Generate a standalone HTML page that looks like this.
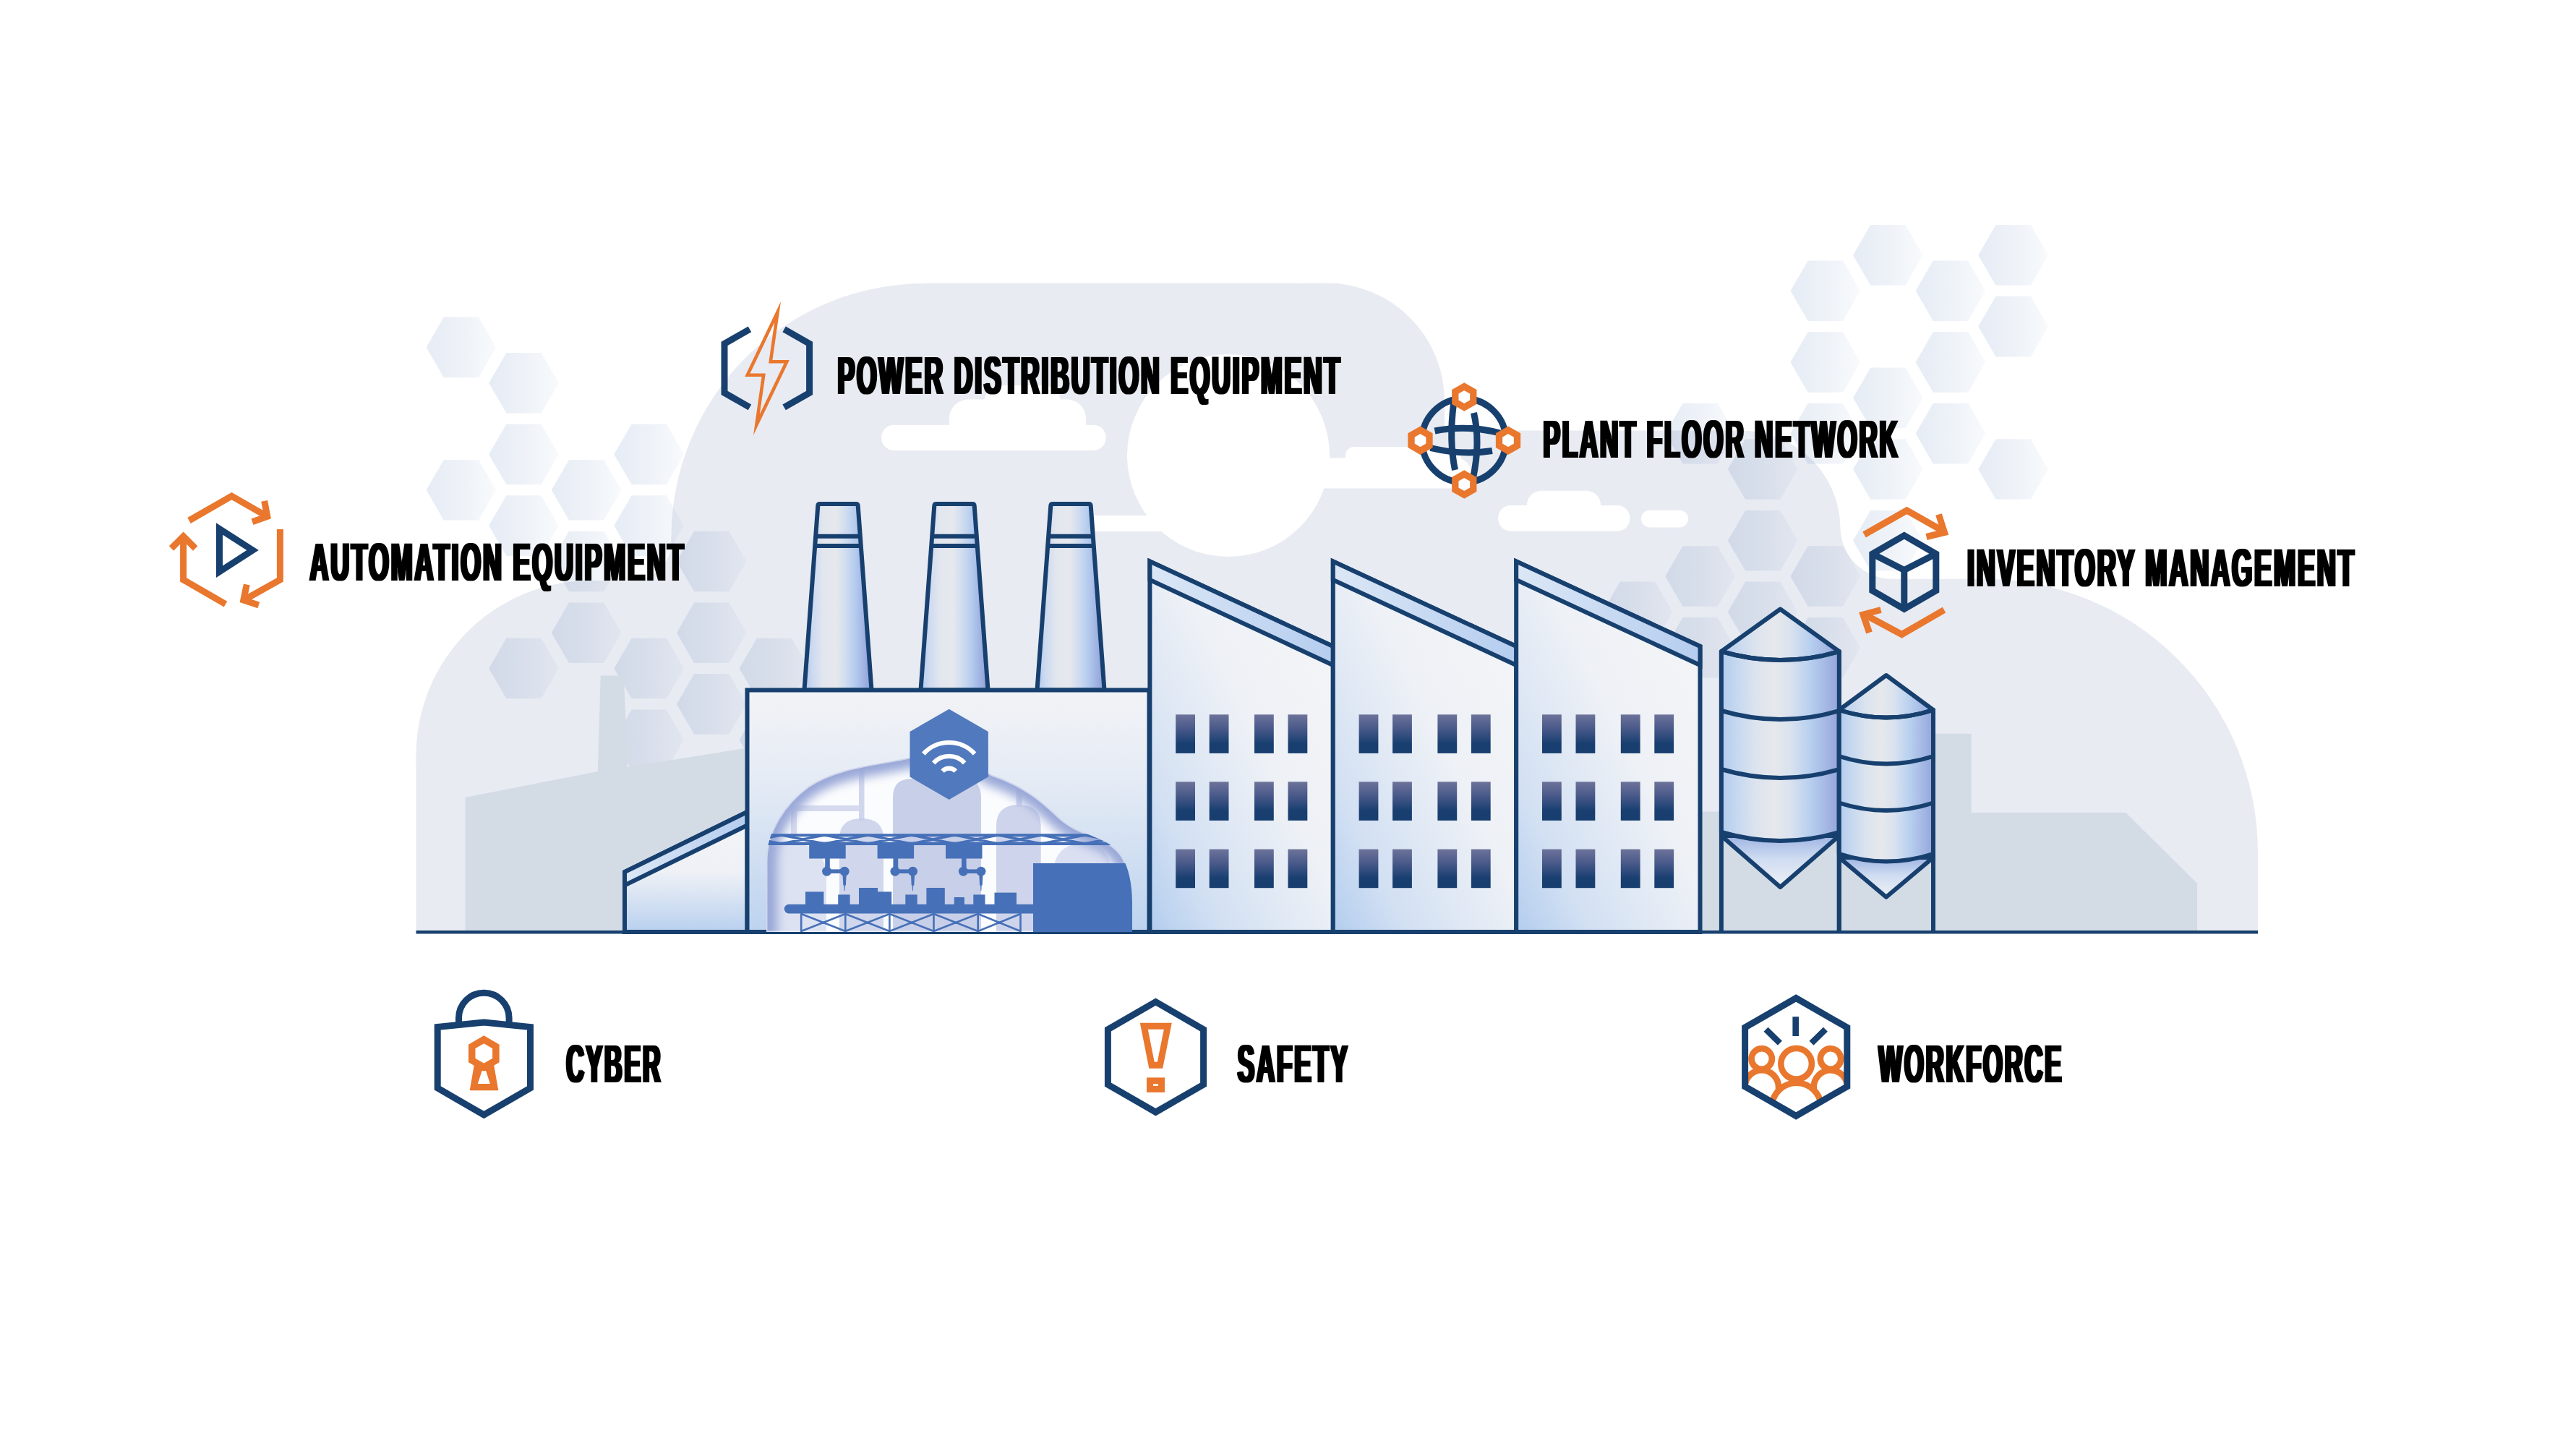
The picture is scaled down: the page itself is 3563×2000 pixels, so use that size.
<!DOCTYPE html>
<html lang="en"><head><meta charset="utf-8"><title>Factory</title>
<style>html,body{margin:0;padding:0;background:#fff;overflow:hidden}svg{display:block}</style></head>
<body>
<svg width="3563" height="2000" viewBox="0 0 3563 2000">
<rect width="3563" height="2000" fill="#fff"/>

<defs>
<linearGradient id="gHex" x1="0" y1="0" x2="1" y2="0">
 <stop offset="0" stop-color="#e6ecf5"/><stop offset="0.5" stop-color="#eef2f8"/><stop offset="1" stop-color="#f8fafc"/>
</linearGradient>
<linearGradient id="gHexC" x1="0" y1="0" x2="1" y2="0">
 <stop offset="0" stop-color="#d6dae6"/><stop offset="0.5" stop-color="#dadee9"/><stop offset="1" stop-color="#e4e7ef"/>
</linearGradient>
<linearGradient id="gChim" x1="0" y1="0" x2="1" y2="0">
 <stop offset="0" stop-color="#b1c9ee"/><stop offset="0.12" stop-color="#ccdaf0"/><stop offset="0.28" stop-color="#e2e6ee"/><stop offset="0.48" stop-color="#e6e8ed"/><stop offset="0.62" stop-color="#cfdcf0"/><stop offset="0.76" stop-color="#b4cbee"/><stop offset="0.9" stop-color="#9db0e1"/><stop offset="1" stop-color="#8b9fd8"/>
</linearGradient>
<linearGradient id="gSilo" x1="0" y1="0" x2="1" y2="0">
 <stop offset="0" stop-color="#b3ccee"/><stop offset="0.12" stop-color="#c4d7f0"/><stop offset="0.3" stop-color="#dde4ee"/><stop offset="0.45" stop-color="#e6e8ec"/><stop offset="0.58" stop-color="#dbe3ef"/><stop offset="0.75" stop-color="#b8d0ef"/><stop offset="0.9" stop-color="#a3b6e3"/><stop offset="1" stop-color="#94a5db"/>
</linearGradient>
<linearGradient id="gCone" x1="0" y1="0" x2="0" y2="1">
 <stop offset="0" stop-color="#9eb4e3"/><stop offset="0.45" stop-color="#cfdcf1"/><stop offset="1" stop-color="#eef1f6"/>
</linearGradient>
<linearGradient id="gSaw" x1="1" y1="0" x2="0" y2="1">
 <stop offset="0" stop-color="#f4f5f7"/><stop offset="0.45" stop-color="#eef1f6"/><stop offset="0.8" stop-color="#d2e0f3"/><stop offset="1" stop-color="#b3cdee"/>
</linearGradient>
<linearGradient id="gMain" x1="0" y1="0" x2="0" y2="1">
 <stop offset="0" stop-color="#f2f3f6"/><stop offset="0.35" stop-color="#e6ecf5"/><stop offset="1" stop-color="#bdd3ef"/>
</linearGradient>
<linearGradient id="gAnnex" x1="0" y1="0" x2="0" y2="1">
 <stop offset="0" stop-color="#f3f4f7"/><stop offset="0.5" stop-color="#eef1f6"/><stop offset="1" stop-color="#b9d0ef"/>
</linearGradient>
<linearGradient id="gBand" x1="0" y1="0" x2="1" y2="0">
 <stop offset="0" stop-color="#dbe7f6"/><stop offset="1" stop-color="#b5cdef"/>
</linearGradient>
<linearGradient id="gWin" x1="0" y1="0" x2="0" y2="1">
 <stop offset="0" stop-color="#6d739a"/><stop offset="0.35" stop-color="#4a5a8a"/><stop offset="0.75" stop-color="#183f70"/><stop offset="1" stop-color="#173e6e"/>
</linearGradient>
<radialGradient id="gBlob" cx="0.5" cy="0.62" r="0.62" fx="0.5" fy="0.7">
 <stop offset="0" stop-color="#ffffff"/><stop offset="0.7" stop-color="#f3f5fb"/><stop offset="0.9" stop-color="#d6dcf0"/><stop offset="1" stop-color="#b9c3e4"/>
</radialGradient>
<filter id="fx" x="-3%" y="-10%" width="106%" height="120%"><feMorphology operator="dilate" radius="1.5 0"/></filter>
<filter id="blur6" x="-20%" y="-20%" width="140%" height="140%"><feGaussianBlur stdDeviation="7"/></filter>
<clipPath id="cpTop"><rect x="0" y="391.5" width="3563" height="897.5"/></clipPath>
<clipPath id="cpBlob"><path id="blobP" d="M1060,1289 V1192 C1060,1150 1085,1112 1118,1088 C1160,1060 1215,1058 1262,1047 C1300,1038 1340,1050 1372,1072 C1420,1088 1445,1112 1466,1132 C1495,1158 1530,1155 1550,1182 C1562,1200 1566,1225 1566,1250 V1289 Z"/></clipPath>
</defs>

<g id="cloud" fill="#e8ebf2" clip-path="url(#cpTop)">
<circle cx="817.5" cy="1045" r="242"/><rect x="575.5" y="1045" width="440" height="250"/><rect x="817.5" y="803" width="200" height="300"/>
<path d="M871.5,803.5 H930 V744.8 A58,58 0 0 1 871.5,803 Z"/>
<circle cx="1279.5" cy="743" r="351"/><rect x="928.5" y="743" width="360" height="548"/>
<rect x="1279" y="391.5" width="556" height="900"/>
<circle cx="1834.5" cy="554.8" r="163.5"/><rect x="1834" y="554.8" width="164" height="700"/>
<path d="M1990,595.5 H2409.5 A136,136 0 0 1 2545.5,731.5 A72,72 0 0 0 2617.5,800.8 H2745 A378.2,378.2 0 0 1 3123,1179 V1290 H1990 Z"/>
</g>
<g fill="#fff">
<circle cx="1699" cy="630" r="140"/>
<rect x="1500" y="713" width="120" height="22"/>
<rect x="1800" y="633.5" width="235" height="42" rx="21"/>
<rect x="1861" y="618" width="160" height="40" rx="12"/>
<rect x="1219" y="587.7" width="310.7" height="35.3" rx="17.6"/>
<rect x="1313" y="552.6" width="189" height="60" rx="26"/>
<rect x="1361" y="533" width="106" height="60" rx="24"/>
<rect x="2072" y="699" width="182.5" height="35.7" rx="17.8"/>
<rect x="2112" y="678.7" width="102" height="50" rx="20"/>
<rect x="2270" y="705.8" width="65" height="23.7" rx="11.8"/>
</g>
<g fill="url(#gHex)" style="mix-blend-mode:multiply">
<polygon points="686.2,480.4 662.0,522.2 613.8,522.2 589.6,480.4 613.8,438.6 662.0,438.6"/>
<polygon points="686.2,677.8 662.0,719.6 613.8,719.6 589.6,677.8 613.8,636.0 662.0,636.0"/>
<polygon points="772.8,529.7 748.6,571.5 700.4,571.5 676.2,529.7 700.4,487.9 748.6,487.9"/>
<polygon points="772.8,628.4 748.6,670.2 700.4,670.2 676.2,628.4 700.4,586.6 748.6,586.6"/>
<polygon points="772.8,727.1 748.6,768.9 700.4,768.9 676.2,727.1 700.4,685.3 748.6,685.3"/>
<polygon points="772.8,924.5 748.6,966.3 700.4,966.3 676.2,924.5 700.4,882.7 748.6,882.7"/>
<polygon points="859.4,677.8 835.2,719.6 787.0,719.6 762.8,677.8 787.0,636.0 835.2,636.0"/>
<polygon points="859.4,776.5 835.2,818.3 787.0,818.3 762.8,776.5 787.0,734.7 835.2,734.7"/>
<polygon points="859.4,875.2 835.2,917.0 787.0,917.0 762.8,875.2 787.0,833.4 835.2,833.4"/>
<polygon points="946.0,628.4 921.9,670.2 873.6,670.2 849.4,628.4 873.6,586.6 921.9,586.6"/>
<polygon points="946.0,727.1 921.9,768.9 873.6,768.9 849.4,727.1 873.6,685.3 921.9,685.3"/>
<polygon points="946.0,924.5 921.9,966.3 873.6,966.3 849.4,924.5 873.6,882.7 921.9,882.7"/>
<polygon points="946.0,1023.2 921.9,1065.0 873.6,1065.0 849.4,1023.2 873.6,981.4 921.9,981.4"/>
<polygon points="1032.6,776.5 1008.4,818.3 960.1,818.3 936.0,776.5 960.1,734.7 1008.4,734.7"/>
<polygon points="1032.6,875.2 1008.4,917.0 960.1,917.0 936.0,875.2 960.1,833.4 1008.4,833.4"/>
<polygon points="1032.6,973.9 1008.4,1015.7 960.1,1015.7 936.0,973.9 960.1,932.1 1008.4,932.1"/>
<polygon points="1119.2,924.5 1095.1,966.3 1046.8,966.3 1022.6,924.5 1046.8,882.7 1095.1,882.7"/>
<polygon points="1119.2,1023.2 1095.1,1065.0 1046.8,1065.0 1022.6,1023.2 1046.8,981.4 1095.1,981.4"/>
<polygon points="2313.3,846.4 2289.2,888.2 2240.8,888.2 2216.7,846.4 2240.8,804.6 2289.2,804.6"/>
<polygon points="2399.9,599.6 2375.8,641.4 2327.5,641.4 2303.3,599.6 2327.5,557.8 2375.8,557.8"/>
<polygon points="2399.9,797.0 2375.8,838.8 2327.5,838.8 2303.3,797.0 2327.5,755.2 2375.8,755.2"/>
<polygon points="2399.9,895.7 2375.8,937.5 2327.5,937.5 2303.3,895.7 2327.5,853.9 2375.8,853.9"/>
<polygon points="2486.5,649.0 2462.4,690.8 2414.1,690.8 2389.9,649.0 2414.1,607.2 2462.4,607.2"/>
<polygon points="2486.5,747.7 2462.4,789.5 2414.1,789.5 2389.9,747.7 2414.1,705.9 2462.4,705.9"/>
<polygon points="2486.5,846.4 2462.4,888.2 2414.1,888.2 2389.9,846.4 2414.1,804.6 2462.4,804.6"/>
<polygon points="2573.1,402.2 2549.0,444.0 2500.7,444.0 2476.5,402.2 2500.7,360.4 2549.0,360.4"/>
<polygon points="2573.1,500.9 2549.0,542.7 2500.7,542.7 2476.5,500.9 2500.7,459.1 2549.0,459.1"/>
<polygon points="2573.1,599.6 2549.0,641.4 2500.7,641.4 2476.5,599.6 2500.7,557.8 2549.0,557.8"/>
<polygon points="2573.1,797.0 2549.0,838.8 2500.7,838.8 2476.5,797.0 2500.7,755.2 2549.0,755.2"/>
<polygon points="2573.1,895.7 2549.0,937.5 2500.7,937.5 2476.5,895.7 2500.7,853.9 2549.0,853.9"/>
<polygon points="2659.7,352.9 2635.6,394.7 2587.2,394.7 2563.1,352.9 2587.2,311.1 2635.6,311.1"/>
<polygon points="2659.7,550.3 2635.6,592.1 2587.2,592.1 2563.1,550.3 2587.2,508.5 2635.6,508.5"/>
<polygon points="2659.7,649.0 2635.6,690.8 2587.2,690.8 2563.1,649.0 2587.2,607.2 2635.6,607.2"/>
<polygon points="2659.7,747.7 2635.6,789.5 2587.2,789.5 2563.1,747.7 2587.2,705.9 2635.6,705.9"/>
<polygon points="2746.3,402.2 2722.2,444.0 2673.8,444.0 2649.7,402.2 2673.8,360.4 2722.2,360.4"/>
<polygon points="2746.3,500.9 2722.2,542.7 2673.8,542.7 2649.7,500.9 2673.8,459.1 2722.2,459.1"/>
<polygon points="2746.3,599.6 2722.2,641.4 2673.8,641.4 2649.7,599.6 2673.8,557.8 2722.2,557.8"/>
<polygon points="2832.9,352.9 2808.8,394.7 2760.5,394.7 2736.3,352.9 2760.5,311.1 2808.8,311.1"/>
<polygon points="2832.9,451.6 2808.8,493.4 2760.5,493.4 2736.3,451.6 2760.5,409.8 2808.8,409.8"/>
<polygon points="2832.9,649.0 2808.8,690.8 2760.5,690.8 2736.3,649.0 2760.5,607.2 2808.8,607.2"/>
</g>
<g fill="#d3dce5">
<path d="M643.5,1290 V1103 L826.8,1066.9 L830.8,934.5 H862.9 L868,1060.9 L1040,1033.5 V1290 Z"/>
<path d="M2354,1290 V1122.5 H2676 V1014.8 H2726.6 V1123.9 H2940.3 L3039.1,1222 V1290 Z"/>
</g>
<rect x="575.5" y="1287" width="2547.5" height="4.5" fill="#17406f"/>
<g id="factory" stroke="#17406f" stroke-width="6" stroke-linejoin="miter">
<path d="M1112.5,954.5 L1131.3,699.5 Q1131.5,697 1134.0,697 H1184.0 Q1186.5,697 1186.7,699.5 L1205.5,954.5 Z" fill="url(#gChim)"/>
<path d="M1128.2,741.8 H1189.8 M1127.2,755 H1190.8" fill="none" stroke-width="6"/>
<path d="M1273.5,954.5 L1292.3,699.5 Q1292.5,697 1295.0,697 H1345.0 Q1347.5,697 1347.7,699.5 L1366.5,954.5 Z" fill="url(#gChim)"/>
<path d="M1289.2,741.8 H1350.8 M1288.2,755 H1351.8" fill="none" stroke-width="6"/>
<path d="M1434.5,954.5 L1453.3,699.5 Q1453.5,697 1456.0,697 H1506.0 Q1508.5,697 1508.7,699.5 L1527.5,954.5 Z" fill="url(#gChim)"/>
<path d="M1450.2,741.8 H1511.8 M1449.2,755 H1512.8" fill="none" stroke-width="6"/>
<path d="M864,1289 V1206 L1033.5,1123 V1289 Z" fill="url(#gAnnex)"/>
<path d="M864,1206 L1033.5,1123 V1141.5 L864,1224.5 Z" fill="url(#gBand)"/>
<rect x="1033.5" y="954.5" width="556" height="334.5" fill="url(#gMain)"/>
</g>
<g clip-path="url(#cpBlob)">
<use href="#blobP" fill="#fbfcfe"/>
<g fill="#c5cce7">
<path d="M1235,1289 V1103 Q1235,1077 1261,1077 H1331 Q1357,1077 1357,1103 V1289 Z" opacity="0.95"/>
<path d="M1161,1289 V1160 Q1161,1132 1191.5,1132 Q1222,1132 1222,1160 V1289 Z" opacity="0.8"/>
<rect x="1188" y="1060" width="7.5" height="75" opacity="0.8"/>
<path d="M1378,1289 V1143 Q1378,1113 1408.8,1113 Q1439.7,1113 1439.7,1143 V1289 Z" opacity="0.85"/>
<rect x="1405.6" y="1080" width="8" height="36" opacity="0.85"/>
<path d="M1050,1289 V1215 Q1050,1167 1097,1167 Q1143,1167 1143,1215 V1289 Z" opacity="0.55"/>
<path d="M1456,1289 V1215 Q1456,1167 1497,1167 Q1538,1167 1538,1215 V1289 Z" opacity="0.6"/>
<path d="M1094,1153 V1114 H1188 V1122 H1102.3 V1153 Z" opacity="0.7"/>
</g>
<path d="M1060,1340 V1192 C1060,1150 1085,1112 1118,1088 C1160,1060 1215,1058 1262,1047 C1300,1038 1340,1050 1372,1072 C1420,1088 1445,1112 1466,1132 C1495,1158 1530,1155 1550,1182 C1562,1200 1566,1225 1566,1250 V1340" fill="none" stroke="#9aa8d8" stroke-width="30" filter="url(#blur6)"/>
<use href="#blobP" fill="none" stroke="#ffffff" stroke-width="3" opacity="0.55"/>
<g fill="#4670b8" stroke="none">
<rect x="1064" y="1153.2" width="480" height="4"/><rect x="1062" y="1164.6" width="490" height="4.4"/>
</g>
<g stroke="#4670b8" stroke-width="2.2" fill="none">
<path d="M1017.0,1155 L1077.0,1167 M1017.0,1167 L1077.0,1155 M1024.0,1155 L1084.0,1167 M1024.0,1167 L1084.0,1155 M1077.0,1155 L1137.0,1167 M1077.0,1167 L1137.0,1155 M1084.0,1155 L1144.0,1167 M1084.0,1167 L1144.0,1155 M1137.0,1155 L1197.0,1167 M1137.0,1167 L1197.0,1155 M1144.0,1155 L1204.0,1167 M1144.0,1167 L1204.0,1155 M1197.0,1155 L1257.0,1167 M1197.0,1167 L1257.0,1155 M1204.0,1155 L1264.0,1167 M1204.0,1167 L1264.0,1155 M1257.0,1155 L1317.0,1167 M1257.0,1167 L1317.0,1155 M1264.0,1155 L1324.0,1167 M1264.0,1167 L1324.0,1155 M1317.0,1155 L1377.0,1167 M1317.0,1167 L1377.0,1155 M1324.0,1155 L1384.0,1167 M1324.0,1167 L1384.0,1155 M1377.0,1155 L1437.0,1167 M1377.0,1167 L1437.0,1155 M1384.0,1155 L1444.0,1167 M1384.0,1167 L1444.0,1155 M1437.0,1155 L1497.0,1167 M1437.0,1167 L1497.0,1155 M1444.0,1155 L1504.0,1167 M1444.0,1167 L1504.0,1155 M1497.0,1155 L1557.0,1167 M1497.0,1167 L1557.0,1155 M1504.0,1155 L1564.0,1167 M1504.0,1167 L1564.0,1155 M1557.0,1155 L1617.0,1167 M1557.0,1167 L1617.0,1155 M1564.0,1155 L1624.0,1167 M1564.0,1167 L1624.0,1155"/>
</g>
<g fill="#4670b8" stroke="none">
<rect x="1119.2" y="1168.5" width="50.5" height="19"/>
<rect x="1141.2" y="1186" width="6.6" height="19"/>
<circle cx="1143.6" cy="1205.2" r="6.5"/><circle cx="1168.1" cy="1205.2" r="6.5"/>
<rect x="1143.6" y="1202.4" width="25" height="5.6"/>
<path d="M1165.3,1205 h5.6 l-1,19.5 h-1 l-0.4,7.5 h-0.8 l-0.4,-7.5 h-1 Z"/>
<rect x="1213.6" y="1168.5" width="50.5" height="19"/>
<rect x="1235.6" y="1186" width="6.6" height="19"/>
<circle cx="1238.0" cy="1205.2" r="6.5"/><circle cx="1262.5" cy="1205.2" r="6.5"/>
<rect x="1238.0" y="1202.4" width="25" height="5.6"/>
<path d="M1259.7,1205 h5.6 l-1,19.5 h-1 l-0.4,7.5 h-0.8 l-0.4,-7.5 h-1 Z"/>
<rect x="1308.0" y="1168.5" width="50.5" height="19"/>
<rect x="1330.0" y="1186" width="6.6" height="19"/>
<circle cx="1332.4" cy="1205.2" r="6.5"/><circle cx="1356.9" cy="1205.2" r="6.5"/>
<rect x="1332.4" y="1202.4" width="25" height="5.6"/>
<path d="M1354.1,1205 h5.6 l-1,19.5 h-1 l-0.4,7.5 h-0.8 l-0.4,-7.5 h-1 Z"/>
<rect x="1084.7" y="1250.8" width="360" height="12.6" rx="6.3"/>
<rect x="1114.0" y="1233.4" width="25.4" height="18.6"/>
<rect x="1159.2" y="1237.4" width="16.4" height="14.6"/>
<rect x="1188.0" y="1228.0" width="26.0" height="24.0"/>
<rect x="1214.0" y="1233.4" width="19.2" height="18.6"/>
<rect x="1252.3" y="1237.4" width="16.4" height="14.6"/>
<rect x="1281.4" y="1228.0" width="25.4" height="24.0"/>
<rect x="1319.8" y="1241.0" width="14.1" height="11.0"/>
<rect x="1346.3" y="1237.4" width="16.2" height="14.6"/>
<rect x="1375.5" y="1234.6" width="30.5" height="17.4"/>
<rect x="1429" y="1194" width="140" height="96"/>
</g>
<g stroke="#4670b8" stroke-width="2.6" fill="none">
<path d="M1108.2,1263 V1289 M1108.2,1264 L1169.3,1288 M1108.2,1288 L1169.3,1264 M1169.3,1263 V1289 M1169.3,1264 L1230.4,1288 M1169.3,1288 L1230.4,1264 M1230.4,1263 V1289 M1230.4,1264 L1291.5,1288 M1230.4,1288 L1291.5,1264 M1291.5,1263 V1289 M1291.5,1264 L1352.7,1288 M1291.5,1288 L1352.7,1264 M1352.7,1263 V1289 M1352.7,1264 L1411.5,1288 M1352.7,1288 L1411.5,1264 M1411.5,1263 V1289"/>
</g>
</g>
<polygon points="1366.9,1074.6 1312.7,1105.9 1258.5,1074.6 1258.5,1012.0 1312.7,980.7 1366.9,1012.0" fill="#5179be"/>
<g fill="none" stroke="#fff" stroke-width="6.2">
<path d="M1277.3,1042.6 A48.0,48.0 0 0 1 1348.1,1042.6"/>
<path d="M1291.2,1055.3 A29.2,29.2 0 0 1 1334.2,1055.3"/>
<path d="M1303.6,1066.7 A12.3,12.3 0 0 1 1321.8,1066.7"/>
</g>
<g stroke="#17406f" stroke-width="6" stroke-linejoin="miter">
<path d="M1590.4,1289 V776.5 L1843.8,894 V1289 Z" fill="url(#gSaw)"/>
<path d="M1590.4,776.5 L1843.8,894 V920 L1590.4,802 Z" fill="url(#gBand)"/>
<path d="M1843.8,1289 V776.5 L2097.2,894 V1289 Z" fill="url(#gSaw)"/>
<path d="M1843.8,776.5 L2097.2,894 V920 L1843.8,802 Z" fill="url(#gBand)"/>
<path d="M2097.2,1289 V776.5 L2351.5,894 V1289 Z" fill="url(#gSaw)"/>
<path d="M2097.2,776.5 L2351.5,894 V920 L2097.2,802 Z" fill="url(#gBand)"/>
</g>
<g fill="url(#gWin)">
<rect x="1626.2" y="988.3" width="26.8" height="53.6"/>
<rect x="1626.2" y="1081.3" width="26.8" height="53.6"/>
<rect x="1626.2" y="1174.6" width="26.8" height="53.6"/>
<rect x="1672.7" y="988.3" width="26.8" height="53.6"/>
<rect x="1672.7" y="1081.3" width="26.8" height="53.6"/>
<rect x="1672.7" y="1174.6" width="26.8" height="53.6"/>
<rect x="1735.0" y="988.3" width="26.8" height="53.6"/>
<rect x="1735.0" y="1081.3" width="26.8" height="53.6"/>
<rect x="1735.0" y="1174.6" width="26.8" height="53.6"/>
<rect x="1781.5" y="988.3" width="26.8" height="53.6"/>
<rect x="1781.5" y="1081.3" width="26.8" height="53.6"/>
<rect x="1781.5" y="1174.6" width="26.8" height="53.6"/>
<rect x="1879.6" y="988.3" width="26.8" height="53.6"/>
<rect x="1879.6" y="1081.3" width="26.8" height="53.6"/>
<rect x="1879.6" y="1174.6" width="26.8" height="53.6"/>
<rect x="1926.1" y="988.3" width="26.8" height="53.6"/>
<rect x="1926.1" y="1081.3" width="26.8" height="53.6"/>
<rect x="1926.1" y="1174.6" width="26.8" height="53.6"/>
<rect x="1988.4" y="988.3" width="26.8" height="53.6"/>
<rect x="1988.4" y="1081.3" width="26.8" height="53.6"/>
<rect x="1988.4" y="1174.6" width="26.8" height="53.6"/>
<rect x="2034.9" y="988.3" width="26.8" height="53.6"/>
<rect x="2034.9" y="1081.3" width="26.8" height="53.6"/>
<rect x="2034.9" y="1174.6" width="26.8" height="53.6"/>
<rect x="2133.0" y="988.3" width="26.8" height="53.6"/>
<rect x="2133.0" y="1081.3" width="26.8" height="53.6"/>
<rect x="2133.0" y="1174.6" width="26.8" height="53.6"/>
<rect x="2179.5" y="988.3" width="26.8" height="53.6"/>
<rect x="2179.5" y="1081.3" width="26.8" height="53.6"/>
<rect x="2179.5" y="1174.6" width="26.8" height="53.6"/>
<rect x="2241.8" y="988.3" width="26.8" height="53.6"/>
<rect x="2241.8" y="1081.3" width="26.8" height="53.6"/>
<rect x="2241.8" y="1174.6" width="26.8" height="53.6"/>
<rect x="2288.3" y="988.3" width="26.8" height="53.6"/>
<rect x="2288.3" y="1081.3" width="26.8" height="53.6"/>
<rect x="2288.3" y="1174.6" width="26.8" height="53.6"/>
</g>
<g stroke="#17406f" stroke-width="6" stroke-linejoin="round">
<path d="M2380.9,1289 V901.0 M2543.8,1289 V901.0" fill="none"/>
<path d="M2380.9,1156.0 L2462.4,1227.0 L2543.8,1156.0 Z" fill="url(#gCone)"/>
<path d="M2380.9,901.0 V1151.0 Q2462.4,1175.0 2543.8,1151.0 V901.0 Z" fill="url(#gSilo)"/>
<path d="M2380.9,901.0 L2462.4,842.5 L2543.8,901.0 Q2462.4,925.0 2380.9,901.0 Z" fill="url(#gSilo)"/>
<path d="M2380.9,901.0 Q2462.4,925.0 2543.8,901.0" fill="none"/>
<path d="M2380.9,983.0 Q2462.4,1007.0 2543.8,983.0" fill="none"/>
<path d="M2380.9,1064.0 Q2462.4,1088.0 2543.8,1064.0" fill="none"/>
<path d="M2543.8,1289 V982.0 M2674.0,1289 V982.0" fill="none"/>
<path d="M2543.8,1186.0 L2608.9,1240.8 L2674.0,1186.0 Z" fill="url(#gCone)"/>
<path d="M2543.8,982.0 V1181.0 Q2608.9,1202.0 2674.0,1181.0 V982.0 Z" fill="url(#gSilo)"/>
<path d="M2543.8,982.0 L2608.9,934.0 L2674.0,982.0 Q2608.9,1003.0 2543.8,982.0 Z" fill="url(#gSilo)"/>
<path d="M2543.8,982.0 Q2608.9,1003.0 2674.0,982.0" fill="none"/>
<path d="M2543.8,1046.0 Q2608.9,1067.0 2674.0,1046.0" fill="none"/>
<path d="M2543.8,1110.5 Q2608.9,1131.5 2674.0,1110.5" fill="none"/>
</g>
<g id="ic-auto" fill="none" stroke-width="9" stroke-linejoin="miter" stroke-linecap="butt">
<g stroke="#e9772d">
<path d="M261.5,720 L320.4,686.1 L368,713.4"/>
<path d="M365.7,692.8 L369.8,714.4 L349,721.8"/>
<path d="M387.4,732 V801.8 L339,829"/>
<path d="M341.3,808.5 L336.8,829.9 L357.8,837"/>
<path d="M312,835.7 L253.6,801.8 V744"/>
<path d="M237,758.5 L253.6,741.8 L270.2,758.5"/>
</g>
<path d="M303.5,731.4 V790.8 L349.5,761 Z" stroke="#17406f"/>
</g>
<g id="ic-power" fill="none">
<path d="M1037,455.3 L1002,475.4 V543.3 L1037,563.4 M1084.6,455.3 L1119.6,475.4 V543.3 L1084.6,563.4" stroke="#17406f" stroke-width="9"/>
<path d="M1075.6,431.5 L1033.8,518.8 H1056.2 L1046.4,587.5 L1088.2,500.3 H1065.8 Z" stroke="#e9772d" stroke-width="4.6" stroke-miterlimit="20"/>
</g>
<g id="ic-globe" fill="none">
<circle cx="2024.8" cy="609.2" r="58" stroke="#17406f" stroke-width="9"/>
<g stroke="#17406f" stroke-width="9">
<path d="M2010.6,558 Q2004,609 2012.5,650"/>
<path d="M2038.5,571 Q2048,612 2037.5,661"/>
<path d="M1984.5,596 Q2028,587 2075,599"/>
<path d="M1978.5,619.5 Q2022,630 2064,623.5"/>
</g>
<polygon points="2037.8,556.2 2025.3,563.4 2012.8,556.2 2012.8,541.8 2025.3,534.6 2037.8,541.8" fill="#fff" stroke="#e9772d" stroke-width="9.3"/>
<polygon points="1977.0,616.4 1964.5,623.6 1952.0,616.4 1952.0,602.0 1964.5,594.8 1977.0,602.0" fill="#fff" stroke="#e9772d" stroke-width="9.3"/>
<polygon points="2098.5,616.4 2086.0,623.6 2073.5,616.4 2073.5,602.0 2086.0,594.8 2098.5,602.0" fill="#fff" stroke="#e9772d" stroke-width="9.3"/>
<polygon points="2037.8,677.2 2025.3,684.4 2012.8,677.2 2012.8,662.8 2025.3,655.6 2037.8,662.8" fill="#fff" stroke="#e9772d" stroke-width="9.3"/>
</g>
<g id="ic-inv" fill="none" stroke-width="9">
<polygon points="2677.8,816.9 2633.8,842.3 2589.8,816.9 2589.8,766.1 2633.8,740.7 2677.8,766.1" stroke="#17406f"/>
<path d="M2589.8,766.1 L2633.8,788.5 L2677.8,766.1 M2633.8,788.5 V842" stroke="#17406f"/>
<g stroke="#e9772d">
<path d="M2578.5,739.5 L2637.4,706 L2686,733.5"/>
<path d="M2681.5,711.5 L2689.5,736.5 L2664.5,742.5"/>
<path d="M2689,843.7 L2630.5,877.5 L2581,851"/>
<path d="M2601.5,843.5 L2577,850 L2585.5,875"/>
</g></g>
<g id="ic-cyber" fill="none" stroke-width="9">
<path d="M634.5,1414 V1408 A34.8,34.8 0 0 1 704.1,1408 V1414" stroke="#17406f"/>
<path d="M605.2,1420.5 L669.3,1414 L733.5,1420.5 V1505 L669.3,1542 L605.2,1505 Z" stroke="#17406f" fill="#fff"/>
<path d="M656,1472 L649.7,1508.2 H689.3 L683,1472 Z M666.6,1481 L660.8,1498.9 H677.9 L672.1,1481 Z" fill="#e9772d" fill-rule="evenodd" stroke="none"/>
<polygon points="685.9,1466.6 669.3,1476.2 652.7,1466.6 652.7,1447.4 669.3,1437.8 685.9,1447.4" stroke="#e9772d" stroke-width="9.5" fill="#fff"/>
</g>
<g id="ic-safety" fill="none">
<polygon points="1664.6,1500.1 1598.5,1538.2 1532.4,1500.1 1532.4,1423.8 1598.5,1385.6 1664.6,1423.8" stroke="#17406f" stroke-width="9"/>
<path d="M1582.3,1419.3 H1615.3 L1604.5,1473.2 H1593 Z" stroke="#e9772d" stroke-width="9"/>
<rect x="1590.5" y="1494.9" width="16" height="11.5" stroke="#e9772d" stroke-width="9"/>
</g>
<g id="ic-work" fill="none">
<clipPath id="cpW"><polygon points="2552.6,1501.5 2484.2,1541.0 2415.8,1501.5 2415.8,1422.5 2484.2,1383.0 2552.6,1422.5"/></clipPath>
<g clip-path="url(#cpW)" stroke="#e9772d" stroke-width="8.6">
<circle cx="2436.7" cy="1464.5" r="14.2"/><circle cx="2532" cy="1464.5" r="14.2"/>
<path d="M2413.4,1545 V1503.6 A23.3,23.3 0 0 1 2460,1503.6 V1545 M2508.7,1545 V1503.6 A23.3,23.3 0 0 1 2555.3,1503.6 V1545"/>
<circle cx="2484.6" cy="1471.3" r="21.3" fill="#fff"/>
<path d="M2450.7,1560 V1531.7 A34.1,34.1 0 0 1 2518.9,1531.7 V1560" fill="#fff"/>
</g>
<polygon points="2554.8,1502.8 2484.2,1543.5 2413.6,1502.8 2413.6,1421.2 2484.2,1380.5 2554.8,1421.2" stroke="#17406f" stroke-width="9"/>
<path d="M2483.7,1406.3 V1433 M2442.5,1423.8 L2461.9,1442.8 M2524.9,1423.8 L2505.5,1442.8" stroke="#17406f" stroke-width="8.6"/>
</g>
<g font-family="'Liberation Sans', sans-serif" font-weight="700" font-size="73.7" fill="#000" filter="url(#fx)">
<text transform="translate(428.5,802.6) scale(0.4876,1)" letter-spacing="5.74">AUTOMATION EQUIPMENT</text>
<text transform="translate(1158.5,544.5) scale(0.4833,1)" letter-spacing="5.79">POWER DISTRIBUTION EQUIPMENT</text>
<text transform="translate(2134.5,633.0) scale(0.4757,1)" letter-spacing="5.89">PLANT FLOOR NETWORK</text>
<text transform="translate(2720.9,810.7) scale(0.4910,1)" letter-spacing="5.70">INVENTORY MANAGEMENT</text>
<text transform="translate(783.2,1496.8) scale(0.4616,1)" letter-spacing="6.07">CYBER</text>
<text transform="translate(1711.8,1496.9) scale(0.4747,1)" letter-spacing="5.90">SAFETY</text>
<text transform="translate(2598.5,1497.0) scale(0.4694,1)" letter-spacing="5.97">WORKFORCE</text>
</g>
</svg>
</body></html>
